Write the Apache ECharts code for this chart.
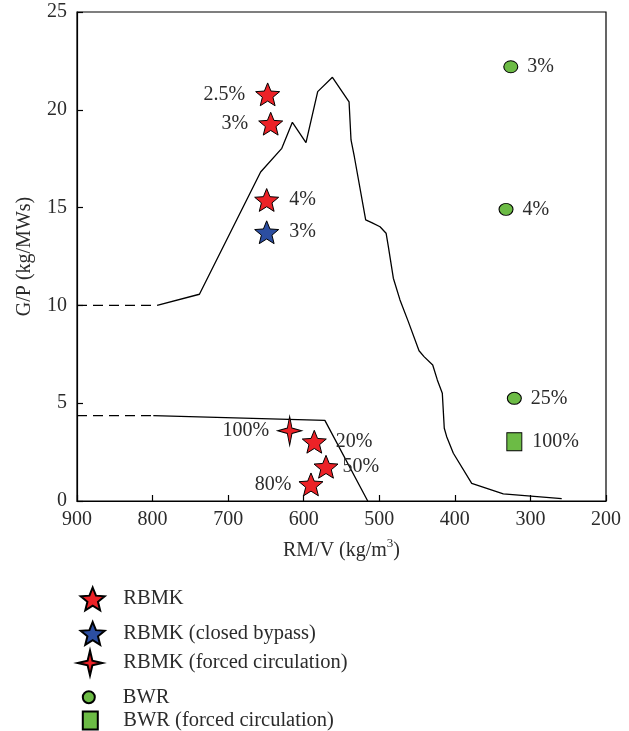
<!DOCTYPE html>
<html>
<head>
<meta charset="utf-8">
<script src="https://cdn.jsdelivr.net/npm/echarts@6/dist/echarts.min.js"></script>
<style>
html,body{margin:0;padding:0;background:#fff;}
#chart{width:629px;height:731px;}
</style>
</head>
<body>
<div id="chart"></div>
<script>
// ---- data ----
var xTicks = [900, 800, 700, 600, 500, 400, 300, 200];
var yTicks = [0, 5, 10, 15, 20, 25];

var upperDashed = [[900, 10.0], [794, 10.0]];
var upperCurve = [
  [794, 10.0], [738, 10.57], [657, 16.82], [629, 18.03], [615, 19.36], [597, 18.32],
  [581.5, 20.93], [562, 21.66], [540, 20.41], [537.4, 18.46], [533, 17.6], [518, 14.37],
  [510, 14.23], [499, 14.02], [491, 13.69], [488, 13.0], [481.4, 11.39], [472.6, 10.28],
  [461.6, 9.17], [447.4, 7.68], [440.8, 7.38], [429.3, 6.95], [423.2, 6.19], [416.6, 5.51],
  [414, 3.72], [410.8, 3.29], [402, 2.44], [377.7, 0.9], [335.9, 0.36], [258.6, 0.12]
];
var lowerDashed = [[900, 4.36], [799, 4.36]];
var lowerCurve = [[799, 4.36], [572, 4.12], [515.3, 0]];

var rbmkX = [647.7, 643.7, 649, 586, 570.5, 590.4];
var rbmkY = [20.79, 19.29, 15.39, 3.03, 1.75, 0.85];
var rbmkLabels = ['2.5%', '3%', '4%', '20%', '50%', '80%'];

var bypassX = [649];
var bypassY = [13.74];
var bypassLabels = ['3%'];

var forcedX = [618.6];
var forcedY = [3.59];
var forcedLabels = ['100%'];

var bwrX = [326, 332.3, 321.3];
var bwrY = [22.2, 14.91, 5.25];
var bwrLabels = ['3%', '4%', '25%'];

var bwrForcedX = [321.3];
var bwrForcedY = [3.03];
var bwrForcedLabels = ['100%'];

var seriesNames = ['RBMK', 'RBMK (closed bypass)', 'RBMK (forced circulation)', 'BWR', 'BWR (forced circulation)'];

// ---- styling (not data) ----
var rbmkSides = ['left', 'left', 'right', 'right', 'right', 'left'];
var rbmkDist = [10, 10, 10, 9, 4, 7];

function starPath(n, inner) {
  var pts = [];
  for (var i = 0; i < 2 * n; i++) {
    var r = (i % 2 === 0) ? 1 : inner;
    var a = -Math.PI / 2 + i * Math.PI / n;
    pts.push((r * Math.cos(a)).toFixed(4) + ' ' + (r * Math.sin(a)).toFixed(4));
  }
  return 'path://M' + pts.join(' L') + ' Z';
}
var STAR = starPath(5, 0.44);
var STAR4 = starPath(4, 0.27);

var FONT = 'Liberation Serif';
var TXT = '#2b2b2b';
var RED = '#ec2227';
var BLUE = '#2c4ea1';
var GREEN = '#6cbb45';
var FS = 20;

function pts(xs, ys, labels, sides, dists) {
  return xs.map(function (x, i) {
    var d = { value: [x, ys[i]], name: labels[i] };
    if (sides) d.label = { position: sides[i], distance: dists[i] };
    return d;
  });
}

var labelBase = {
  show: true,
  formatter: '{b}',
  fontFamily: FONT,
  fontSize: FS,
  color: TXT
};

function lineSeries(data, dashed) {
  return {
    type: 'line', data: data, showSymbol: false, symbol: 'none', silent: true,
    lineStyle: { color: '#000', width: 1.3, type: dashed ? [10, 6] : 'solid' },
    z: 1, animation: false
  };
}

function legendItem(name, icon, w, h, left, top, pad) {
  return {
    data: [{ name: name, icon: icon }],
    left: left, top: top, padding: 0,
    itemWidth: w, itemHeight: h,
    selectedMode: false,
    textStyle: { fontFamily: FONT, fontSize: 20.5, color: TXT, padding: [0, 0, 0, pad] }
  };
}

var option = {
  animation: false,
  backgroundColor: '#fff',
  grid: { left: 77, right: 23, top: 12, bottom: 230, show: true, borderColor: '#000', borderWidth: 1.2, backgroundColor: 'transparent' },
  xAxis: {
    type: 'value', min: 200, max: 900, interval: 100, inverse: true,
    name: '{n|RM/V (kg/m}{sup|3}{n|)}', nameLocation: 'middle', nameGap: 36,
    nameTextStyle: {
      fontFamily: FONT, fontSize: FS, color: TXT,
      rich: {
        n: { fontFamily: FONT, fontSize: FS, color: TXT, lineHeight: 24, verticalAlign: 'bottom' },
        sup: { fontFamily: FONT, fontSize: 13, color: TXT, lineHeight: 13, verticalAlign: 'top' }
      }
    },
    axisLine: { show: true, lineStyle: { color: '#000', width: 1.2 } },
    axisTick: { show: true, inside: true, length: 6, lineStyle: { color: '#000', width: 1.2 } },
    axisLabel: { fontFamily: FONT, fontSize: FS, color: TXT, margin: 9, formatter: function (v) { return xTicks.indexOf(v) >= 0 ? String(v) : ''; } },
    splitLine: { show: false }
  },
  yAxis: {
    type: 'value', min: 0, max: 25, interval: 5,
    name: 'G/P (kg/MWs)', nameLocation: 'middle', nameGap: 42,
    nameTextStyle: { fontFamily: FONT, fontSize: FS, color: TXT },
    axisLine: { show: true, lineStyle: { color: '#000', width: 1.2 } },
    axisTick: { show: true, inside: true, length: 6, lineStyle: { color: '#000', width: 1.2 } },
    axisLabel: { fontFamily: FONT, fontSize: FS, color: TXT, margin: 10, formatter: function (v) { return yTicks.indexOf(v) >= 0 ? String(v) : ''; } },
    splitLine: { show: false }
  },
  legend: [
    legendItem(seriesNames[0], STAR, 24, 23, 79.7, 586.5, 13.6),
    legendItem(seriesNames[1], STAR, 24, 23, 79.7, 621, 13.6),
    legendItem(seriesNames[2], STAR4, 25, 29, 76.5, 649.5, 15.8),
    legendItem(seriesNames[3], 'circle', 13, 12, 81.8, 686.7, 22.5),
    legendItem(seriesNames[4], 'rect', 15, 18, 81.8, 710, 20.5)
  ],
  series: [
    lineSeries(upperDashed, true),
    lineSeries(upperCurve, false),
    lineSeries(lowerDashed, true),
    lineSeries(lowerCurve, false),
    {
      name: seriesNames[0], type: 'scatter', symbol: STAR, symbolSize: 24, symbolKeepAspect: true,
      itemStyle: { color: RED, borderColor: '#000', borderWidth: 1, opacity: 1 },
      label: Object.assign({}, labelBase),
      data: pts(rbmkX, rbmkY, rbmkLabels, rbmkSides, rbmkDist), z: 3
    },
    {
      name: seriesNames[1], type: 'scatter', symbol: STAR, symbolSize: 24, symbolKeepAspect: true,
      itemStyle: { color: BLUE, borderColor: '#000', borderWidth: 1, opacity: 1 },
      label: Object.assign({}, labelBase, { position: 'right', distance: 10 }),
      data: pts(bypassX, bypassY, bypassLabels), z: 3
    },
    {
      name: seriesNames[2], type: 'scatter', symbol: STAR4, symbolSize: [24, 29],
      itemStyle: { color: RED, borderColor: '#000', borderWidth: 1, opacity: 1 },
      label: Object.assign({}, labelBase, { position: 'left', distance: 8 }),
      data: pts(forcedX, forcedY, forcedLabels), z: 3
    },
    {
      name: seriesNames[3], type: 'scatter', symbol: 'circle', symbolSize: [14, 12],
      itemStyle: { color: GREEN, borderColor: '#000', borderWidth: 1, opacity: 1 },
      label: Object.assign({}, labelBase, { position: 'right', distance: 9 }),
      data: pts(bwrX, bwrY, bwrLabels), z: 3
    },
    {
      name: seriesNames[4], type: 'scatter', symbol: 'rect', symbolSize: [15, 18],
      itemStyle: { color: GREEN, borderColor: '#000', borderWidth: 1, opacity: 1 },
      label: Object.assign({}, labelBase, { position: 'right', distance: 10 }),
      data: pts(bwrForcedX, bwrForcedY, bwrForcedLabels), z: 3
    }
  ]
};

var chart = echarts.init(document.getElementById('chart'), null, { renderer: 'canvas' });
chart.setOption(option);
</script>
</body>
</html>
